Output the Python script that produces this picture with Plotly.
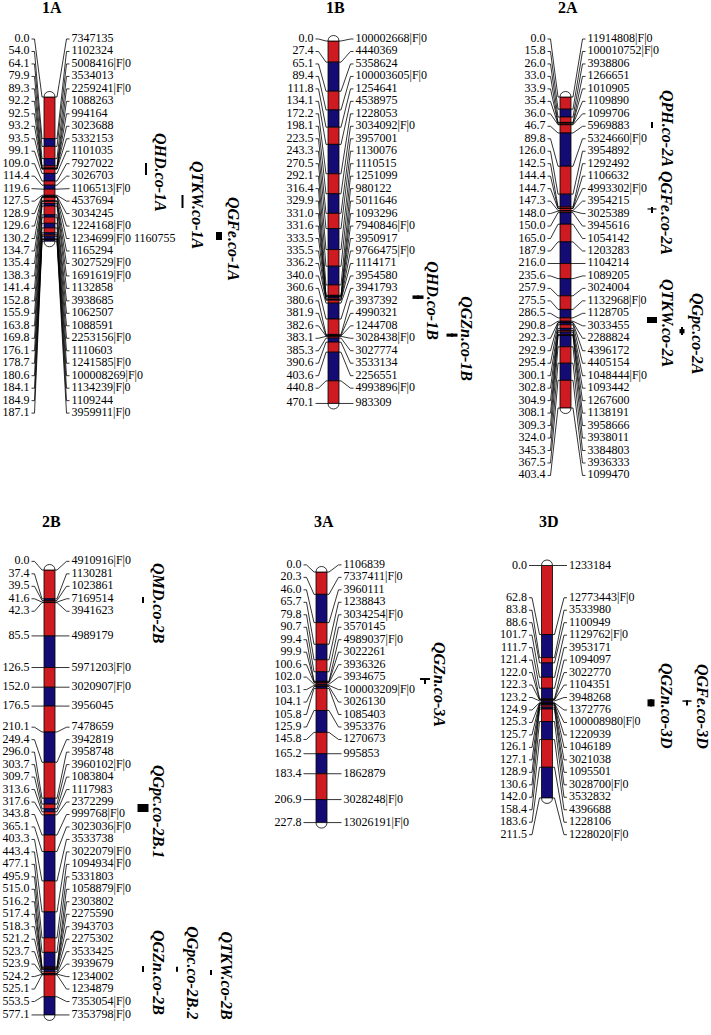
import plotly.graph_objects as go

# ------------------------------------------------------------------ data
chrom_ids = ["1A", "1B", "2A", "2B", "3A", "3D"]

pos_1A = [0.0, 54.0, 64.1, 79.9, 89.3, 92.2, 92.5, 93.2, 93.5, 99.1, 109.0, 114.4, 119.6, 127.5,
          128.9, 129.6, 130.2, 134.7, 135.4, 138.3, 141.4, 152.8, 155.9, 163.8, 169.8, 176.1,
          178.7, 180.6, 184.1, 184.9, 187.1]
mk_1A = ["7347135", "1102324", "5008416|F|0", "3534013", "2259241|F|0", "1088263", "994164",
         "3023688", "5332153", "1101035", "7927022", "3026703", "1106513|F|0", "4537694", "3034245",
         "1224168|F|0", "1234699|F|0 1160755", "1165294", "3027529|F|0", "1691619|F|0", "1132858",
         "3938685", "1062507", "1088591", "2253156|F|0", "1110603", "1241585|F|0", "100008269|F|0",
         "1134239|F|0", "1109244", "3959911|F|0"]

pos_1B = [0.0, 27.4, 65.1, 89.4, 111.8, 134.1, 172.2, 198.1, 223.5, 243.3, 270.5, 292.1, 316.4,
          329.9, 331.0, 331.6, 333.5, 335.5, 336.2, 340.0, 360.6, 380.6, 381.9, 382.6, 383.1,
          385.3, 390.6, 403.6, 440.8, 470.1]
mk_1B = ["100002668|F|0", "4440369", "5358624", "100003605|F|0", "1254641", "4538975", "1228053",
         "3034092|F|0", "3957001", "1130076", "1110515", "1251099", "980122", "5011646", "1093296",
         "7940846|F|0", "3950917", "9766475|F|0", "1114171", "3954580", "3941793", "3937392",
         "4990321", "1244708", "3028438|F|0", "3027774", "3533134", "2256551", "4993896|F|0",
         "983309"]

pos_2A = [0.0, 15.8, 26.0, 33.0, 33.9, 35.4, 36.0, 46.7, 89.8, 126.0, 142.5, 144.4, 144.7, 147.3,
          148.0, 150.0, 165.0, 187.9, 216.0, 235.6, 257.9, 275.5, 286.5, 290.8, 292.3, 292.9,
          295.4, 300.1, 302.8, 304.9, 308.1, 309.3, 324.0, 345.3, 367.5, 403.4]
mk_2A = ["11914808|F|0", "100010752|F|0", "3938806", "1266651", "1010905", "1109890", "1099706",
         "5969883", "5324660|F|0", "3954892", "1292492", "1106632", "4993302|F|0", "3954215",
         "3025389", "3945616", "1054142", "1203283", "1104214", "1089205", "3024004",
         "1132968|F|0", "1128705", "3033455", "2288824", "4396172", "4405154", "1048444|F|0",
         "1093442", "1267600", "1138191", "3958666", "3938011", "3384803", "3936333", "1099470"]

pos_2B = [0.0, 37.4, 39.5, 41.6, 42.3, 85.5, 126.5, 152.0, 176.5, 210.1, 249.4, 296.0, 303.7,
          309.7, 313.6, 317.6, 343.8, 365.1, 403.3, 443.4, 477.1, 495.9, 515.0, 516.2, 517.4,
          518.3, 521.2, 523.7, 523.9, 524.2, 525.1, 553.5, 577.1]
mk_2B = ["4910916|F|0", "1130281", "1023861", "7169514", "3941623", "4989179", "5971203|F|0",
         "3020907|F|0", "3956045", "7478659", "3942819", "3958748", "3960102|F|0", "1083804",
         "1117983", "2372299", "999768|F|0", "3023036|F|0", "3533738", "3022079|F|0",
         "1094934|F|0", "5331803", "1058879|F|0", "2303802", "2275590", "3943703", "2275302",
         "3533425", "3939679", "1234002", "1234879", "7353054|F|0", "7353798|F|0"]

pos_3A = [0.0, 20.3, 46.0, 65.7, 79.8, 90.7, 99.4, 99.9, 100.6, 102.0, 103.1, 104.1, 105.8,
          125.9, 145.8, 165.2, 183.4, 206.9, 227.8]
mk_3A = ["1106839", "7337411|F|0", "3960111", "1238843", "3034254|F|0", "3570145", "4989037|F|0",
         "3022261", "3936326", "3934675", "100003209|F|0", "3026130", "1085403", "3953376",
         "1270673", "995853", "1862879", "3028248|F|0", "13026191|F|0"]

pos_3D = [0.0, 62.8, 83.8, 88.6, 101.7, 111.7, 121.4, 122.0, 122.3, 123.2, 124.9, 125.3, 125.7,
          126.1, 127.1, 128.9, 130.6, 142.0, 158.4, 183.6, 211.5]
mk_3D = ["1233184", "12773443|F|0", "3533980", "1100949", "1129762|F|0", "3953171", "1094097",
         "3022770", "1104351", "3948268", "1372776", "100008980|F|0", "1220939", "1046189",
         "3021038", "1095501", "3028700|F|0", "3532832", "4396688", "1228106", "1228020|F|0"]

# QTLs: chromosome, name, support interval (cM), core interval (cM, None = no box), track
qtl_chrom = ["1A", "1A", "1A", "1B", "1B", "2A", "2A", "2A", "2A",
             "2B", "2B", "2B", "2B", "2B", "3A", "3D", "3D"]
qtl_name = ["QHD.co-1A", "QTKW.co-1A", "QGFe.co-1A", "QHD.co-1B", "QGZn.co-1B",
            "QPH.co-2A", "QGFe.co-2A", "QTKW.co-2A", "QGpc.co-2A",
            "QMD.co-2B", "QGpc.co-2B.1", "QGZn.co-2B", "QGpc.co-2B.2", "QTKW.co-2B",
            "QGZn.co-3A", "QGZn.co-3D", "QGFe.co-3D"]
qtl_lo = [85.6, 127.1, 175.1, 330.0, 379.5, 32.4, 142.7, 285.3, 298.3,
          35.0, 303.5, 513.6, 514.5, 518.8, 96.4, 121.8, 122.7]
qtl_hi = [101.2, 144.0, 185.5, 334.5, 383.5, 40.2, 150.5, 293.1, 308.7,
          42.8, 313.9, 521.4, 521.0, 525.3, 101.8, 128.2, 127.3]
qtl_core_lo = [None, None, 175.1, 330.0, 379.5, None, 144.5, 285.3, 301.0,
               None, 303.5, None, None, None, 96.4, 121.8, 122.7]
qtl_core_hi = [None, None, 185.5, 334.5, 383.5, None, 146.0, 293.1, 306.5,
               None, 313.9, None, None, None, 98.2, 128.2, 124.0]
qtl_track = [0, 1, 2, 0, 1, 0, 0, 0, 1, 0, 0, 0, 1, 2, 0, 0, 1]

positions = {"1A": pos_1A, "1B": pos_1B, "2A": pos_2A, "2B": pos_2B, "3A": pos_3A, "3D": pos_3D}
markers = {"1A": mk_1A, "1B": mk_1B, "2A": mk_2A, "2B": mk_2B, "3A": mk_3A, "3D": mk_3D}

# ------------------------------------------------------------------ layout (pixels)
W, H = 711, 1035
panel = {
    "1A": dict(bc=49.5, origin=97.0, scale=0.771, top=39.0, title_y=7.5, qx=146, qdx=36.5),
    "1B": dict(bc=333.5, origin=41.0, scale=0.771, top=39.0, title_y=7.5, qx=418, qdx=34),
    "2A": dict(bc=565.5, origin=97.0, scale=0.771, top=39.0, title_y=7.5, qx=652, qdx=30),
    "2B": dict(bc=49.5, origin=570.0, scale=0.771, top=556.0, title_y=521, qx=143, qdx=34),
    "3A": dict(bc=321.5, origin=572.0, scale=1.100, top=556.0, title_y=521, qx=425, qdx=34),
    "3D": dict(bc=547.0, origin=565.5, scale=1.099, top=556.0, title_y=521, qx=651, qdx=36),
}
# width (px) of the core box of each QTL glyph
qtl_box_px = {"QGFe.co-1A": 6, "QHD.co-1B": 11, "QGZn.co-1B": 11, "QGFe.co-2A": 9,
              "QTKW.co-2A": 10, "QGpc.co-2A": 5, "QGpc.co-2B.1": 11, "QGZn.co-3A": 10,
              "QGZn.co-3D": 7, "QGFe.co-3D": 9}
BAR_W = 11.0
ROW = 12.47
RED = "#CE1B22"
BLUE = "#140C74"
FONT = "Liberation Serif"


def spread(pos, sp, top):
    clusters = [[i, i] for i in range(len(pos))]

    def start(c):
        n = c[1] - c[0] + 1
        return (pos[c[0]] + pos[c[1]]) / 2 - (n - 1) * sp / 2

    changed = True
    while changed:
        changed = False
        for k in range(len(clusters) - 1):
            c1, c2 = clusters[k], clusters[k + 1]
            e1 = start(c1) + (c1[1] - c1[0]) * sp
            if start(c2) - e1 < sp - 1e-9:
                clusters[k] = [c1[0], c2[1]]
                del clusters[k + 1]
                changed = True
                break
    lab = []
    for c in clusters:
        s = start(c)
        for j in range(c[0], c[1] + 1):
            lab.append(s + (j - c[0]) * sp)
    if lab[0] < top:
        lab[0] = top
    for i in range(1, len(lab)):
        lab[i] = max(lab[i], lab[i - 1] + sp)
    return lab


fig = go.Figure()
shapes = []
annotations = []

for k, cid in enumerate(chrom_ids, start=1):
    p = panel[cid]
    yname = "y" if k == 1 else f"y{k}"
    sc, o = p["scale"], p["origin"]
    pos = positions[cid]
    names = markers[cid]
    bc = p["bc"]
    bl, br = bc - BAR_W / 2, bc + BAR_W / 2
    le = bl - 14.5
    rs = br + 16.5

    # chromosome segments
    starts = pos[:-1]
    lens = [b - a for a, b in zip(pos[:-1], pos[1:])]
    cols = [RED if i % 2 == 0 else BLUE for i in range(len(lens))]
    fig.add_trace(go.Bar(x=[bc] * len(lens), y=lens, base=starts, width=[BAR_W] * len(lens),
                         marker=dict(color=cols, line=dict(color="black", width=0.8)),
                         xaxis="x", yaxis=yname, hoverinfo="skip", showlegend=False))
    # end caps
    kc = 5.5 / sc * 4 / 3
    L = pos[-1]
    shapes.append(dict(type="path", xref="x", yref=yname,
                       path=f"M {bl},0 C {bl},{-kc} {br},{-kc} {br},0 Z",
                       fillcolor="white", line=dict(color="black", width=0.8)))
    shapes.append(dict(type="path", xref="x", yref=yname,
                       path=f"M {bl},{L} C {bl},{L + kc} {br},{L + kc} {br},{L} Z",
                       fillcolor="white", line=dict(color="black", width=0.8)))

    # label layout
    top_cm = (p["top"] - o) / sc
    lab = spread(pos, ROW / sc, top_cm)

    xs, ys = [], []
    for yl, ym in zip(lab, pos):
        xs += [le + 2, le + 5, bl - 2, bl, None]
        ys += [yl, yl, ym, ym, None]
        xs += [br, br + 2, rs - 5, rs - 2, None]
        ys += [ym, ym, yl, yl, None]
    fig.add_trace(go.Scatter(x=xs, y=ys, mode="lines", line=dict(color="black", width=0.8),
                             xaxis="x", yaxis=yname, hoverinfo="skip", showlegend=False))
    fig.add_trace(go.Scatter(x=[le] * len(pos), y=lab, mode="text",
                             text=[f"{v:.1f}" for v in pos], textposition="middle left",
                             textfont=dict(family=FONT, size=12, color="black"),
                             xaxis="x", yaxis=yname, hoverinfo="skip", showlegend=False))
    fig.add_trace(go.Scatter(x=[rs] * len(pos), y=lab, mode="text",
                             text=names, textposition="middle right",
                             textfont=dict(family=FONT, size=12, color="black"),
                             xaxis="x", yaxis=yname, hoverinfo="skip", showlegend=False))

    # title
    annotations.append(dict(text=cid, x=bc + 2, xref="x", y=1 - p["title_y"] / H, yref="paper",
                            showarrow=False, xanchor="center", yanchor="middle",
                            font=dict(family=FONT, size=16, color="black", weight="bold")))

    # QTLs
    for j in range(len(qtl_name)):
        if qtl_chrom[j] != cid:
            continue
        qx = p["qx"] + qtl_track[j] * p["qdx"]
        fig.add_trace(go.Scatter(x=[qx, qx], y=[qtl_lo[j], qtl_hi[j]], mode="lines",
                                 line=dict(color="black", width=2),
                                 xaxis="x", yaxis=yname, hoverinfo="skip", showlegend=False))
        if qtl_core_lo[j] is not None:
            hw = qtl_box_px.get(qtl_name[j], 7) / 2
            shapes.append(dict(type="rect", xref="x", yref=yname, x0=qx - hw, x1=qx + hw,
                               y0=qtl_core_lo[j], y1=qtl_core_hi[j], fillcolor="black",
                               line=dict(width=0)))
        cy = (qtl_lo[j] + qtl_hi[j]) / 2 + 3 / sc
        annotations.append(dict(text=qtl_name[j], x=qx + 15, xref="x", y=cy, yref=yname,
                                textangle=90, showarrow=False, xanchor="center", yanchor="middle",
                                font=dict(family=FONT, size=16, color="black",
                                          weight="bold", style="italic")))

layout = dict(width=W, height=H, autosize=False, margin=dict(l=0, r=0, t=0, b=0, pad=0),
              paper_bgcolor="white", plot_bgcolor="rgba(0,0,0,0)", showlegend=False,
              barmode="overlay", shapes=shapes, annotations=annotations,
              xaxis=dict(range=[0, W], domain=[0, 1], visible=False, fixedrange=True))
for k, cid in enumerate(chrom_ids, start=1):
    p = panel[cid]
    ax = dict(range=[(H - p["origin"]) / p["scale"], -p["origin"] / p["scale"]],
              domain=[0, 1], visible=False, fixedrange=True)
    if k > 1:
        ax["overlaying"] = "y"
    layout["yaxis" if k == 1 else f"yaxis{k}"] = ax
fig.update_layout(**layout)

fig.write_html("out.html", config={"displayModeBar": False},
               post_script="document.body.style.margin='0';")
